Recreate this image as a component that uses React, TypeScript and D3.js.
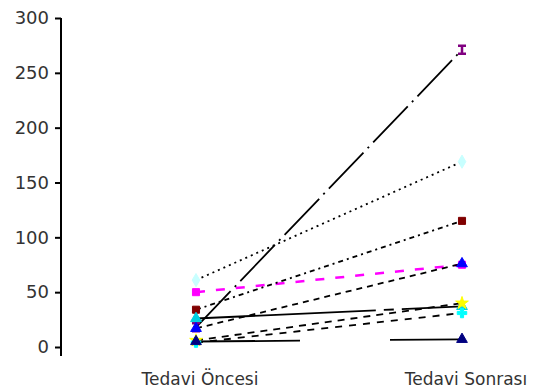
import React, { useEffect, useRef } from 'react';
import * as d3 from 'd3';

const categories = ['Tedavi Öncesi', 'Tedavi Sonrası'];
const yTicks = [0, 50, 100, 150, 200, 250, 300];

// one entry per subject: value before / after
const seriesNames = ['s1', 's2', 's3', 's4', 's5', 's6', 's7', 's8', 's9'];
const preValues = [61, 50, 34, 18, 17, 26, 6, 4, 5];
const postValues = [169, 75, 115, 271, 76, 37, 40, 31, 7];
const markerColors = ['#c8ffff', '#ff00ff', '#800000', '#800080', '#0000ff', '#00d0e0', '#ffff00', '#00ffff', '#000080'];
const markerShapes = ['diamond', 'square', 'square', 'ibeam', 'triangle', 'triangle', 'star', 'cross', 'triangle'];
const lineColors = ['#000', '#ff00ff', '#000', '#000', '#000', '#000', '#000', '#000', '#000'];
const lineDashes = ['2,4', '9,11', '5,4,2,4', '50,6,2,6', '6,5', '180,8,10,8', '7,6', '7,7', '104,90'];

const font = 'DejaVu Sans, Verdana, sans-serif';

const App = () => {
  const svgRef = useRef<SVGSVGElement>(null);

  useEffect(() => {
    const width = 542;
    const height = 390;

    const x = d3.scalePoint<string>()
      .domain(categories)
      .range([196, 462]);

    const y = d3.scaleLinear()
      .domain([0, 300])
      .range([347, 18]);

    const svg = d3.select(svgRef.current)
      .attr('width', width)
      .attr('height', height)
      .attr('viewBox', [0, 0, width, height] as any);

    svg.selectAll('*').remove();

    const data = seriesNames.map((name, i) => ({
      name,
      pre: preValues[i],
      post: postValues[i],
      color: markerColors[i],
      shape: markerShapes[i],
      line: lineColors[i],
      dash: lineDashes[i],
    }));

    // y axis
    svg.append('g')
      .attr('transform', 'translate(61,0)')
      .call(d3.axisLeft(y).tickValues(yTicks).tickSize(6).tickPadding(6).tickSizeOuter(0))
      .call(g => g.select('.domain').attr('d', `M0,${y(300)}V356`).attr('stroke', '#000').attr('stroke-width', 2))
      .call(g => g.selectAll('.tick line').attr('stroke', '#000').attr('stroke-width', 2))
      .call(g => g.selectAll('.tick text')
        .attr('fill', '#333')
        .attr('font-size', 18)
        .attr('font-family', font));

    // category labels
    svg.append('g')
      .selectAll('text')
      .data(categories)
      .join('text')
      .attr('x', d => x(d)! + 4)
      .attr('y', 385)
      .attr('text-anchor', 'middle')
      .attr('fill', '#333')
      .attr('font-size', 17)
      .attr('font-family', font)
      .text(d => d);

    // before-after lines
    svg.append('g')
      .selectAll('line')
      .data(data)
      .join('line')
      .attr('x1', x(categories[0])!)
      .attr('x2', x(categories[1])!)
      .attr('y1', d => y(d.pre))
      .attr('y2', d => y(d.post))
      .attr('stroke', d => d.line)
      .attr('stroke-width', d => (d.line === '#000' ? 1.8 : 2.5))
      .attr('stroke-dasharray', d => d.dash);

    const markerPath = (shape: string) => {
      if (shape === 'ibeam') return 'M-4,-4H4M0,-4V4M-4,4H4';
      const types: Record<string, d3.SymbolType> = {
        diamond: d3.symbolDiamond,
        square: d3.symbolSquare,
        triangle: d3.symbolTriangle,
        star: d3.symbolStar,
        cross: d3.symbolCross,
      };
      return d3.symbol(types[shape], 50)()!;
    };

    // markers at both ends
    const points = data.flatMap(d => [
      { ...d, cat: categories[0], v: d.pre },
      { ...d, cat: categories[1], v: d.post },
    ]);

    svg.append('g')
      .selectAll('path')
      .data(points)
      .join('path')
      .attr('transform', d => `translate(${x(d.cat)},${y(d.v)})`)
      .attr('d', d => markerPath(d.shape))
      .attr('fill', d => (d.shape === 'ibeam' ? 'none' : d.color))
      .attr('stroke', d => d.color)
      .attr('stroke-width', d => (d.shape === 'ibeam' ? 2.5 : 1));
  }, []);

  return (
    <svg ref={svgRef} style={{ position: 'absolute', left: 0, top: 0, background: '#fff' }}></svg>
  );
};

export default App;
